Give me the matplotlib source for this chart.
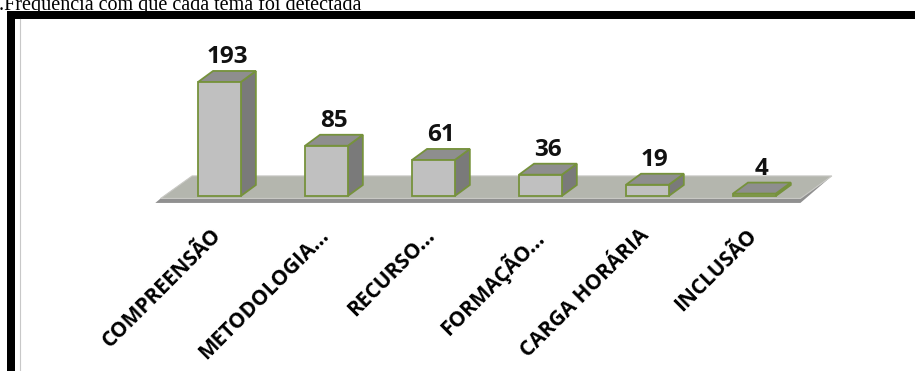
import matplotlib.pyplot as plt
from matplotlib.patches import Polygon, Rectangle
from matplotlib.lines import Line2D

temas = ["COMPREENSÃO", "METODOLOGIA...", "RECURSO...", "FORMAÇÃO...",
         "CARGA HORÁRIA", "INCLUSÃO"]
freq = [193, 85, 61, 36, 19, 4]

titulo = ".Frequência com que cada tema foi detectada"

# colours of the excel-like 3d columns
face = "#c0c0c0"
side = "#7a7a7a"
topc = "#8e8e8e"
edge = "#76923c"
floor_c = "#b4b6ae"
floor_edge = "#909090"

fig = plt.figure(figsize=(9.15, 3.71), dpi=100)
ax = fig.add_axes([0.0645, 0.3922, 0.912, 0.4458])
ax.set_xlim(-1.5, 6.3)
ax.set_ylim(-50, 230)
ax.axis("off")

w = 0.40            # width of the front face
dx, dy = 0.14, 18.6  # depth of the columns
n = len(freq)

# floor (a thin slab under the columns)
fl, fr = -0.55, n - 1 + 0.43
fdx = 0.294
yb, yf, ys = 33.9, -4.2, -11.8
ax.add_patch(Polygon([(fl, yf), (fr, yf), (fr + fdx, yb), (fl + fdx, yb)],
                     closed=True, fc=floor_c, ec="#c8c8c4", lw=0.8, zorder=1))
ax.add_patch(Polygon([(fl - 0.05, ys), (fr, ys), (fr + fdx, yb), (fr, yf), (fl, yf)],
                     closed=True, fc=floor_edge, ec="none", zorder=0.9))

for i, v in enumerate(freq):
    x0, x1 = i - w / 2, i + w / 2
    ax.add_patch(Polygon([(x0, 0), (x1, 0), (x1, v), (x0, v)], closed=True,
                         fc=face, ec=edge, lw=1.3, zorder=3))
    ax.add_patch(Polygon([(x1, 0), (x1 + dx, dy), (x1 + dx, v + dy), (x1, v)],
                         closed=True, fc=side, ec=edge, lw=1.3, zorder=2))
    ax.add_patch(Polygon([(x0, v), (x1, v), (x1 + dx, v + dy), (x0 + dx, v + dy)],
                         closed=True, fc=topc, ec=edge, lw=1.3, zorder=2))
    ax.text(i + dx / 2, v + dy + 13, str(v), ha="center", va="baseline",
            fontsize=17.5, fontweight="bold", family="Open Sans", color="#111111")
    ax.text(i - 0.08, -49, temas[i], rotation=45, rotation_mode="anchor",
            ha="right", va="top", fontsize=15, fontweight="bold",
            family="Open Sans", color="black")

# frame like the original document screenshot
fig.patches.append(Rectangle((7 / 915, 0), 8 / 915, 360 / 371, transform=fig.transFigure,
                             fc="black", ec="none"))
fig.patches.append(Rectangle((7 / 915, 352 / 371), 908 / 915, 8 / 371,
                             transform=fig.transFigure, fc="black", ec="none"))
fig.lines.append(Line2D([19.5 / 915, 19.5 / 915], [0, 352 / 371], transform=fig.transFigure,
                        color="#c8c8c8", lw=0.8))

fig.text(-0.001, 361 / 371, titulo, family="Liberation Serif", fontsize=14.5,
         ha="left", va="baseline", color="black")

fig.savefig("out.png", dpi=100)
